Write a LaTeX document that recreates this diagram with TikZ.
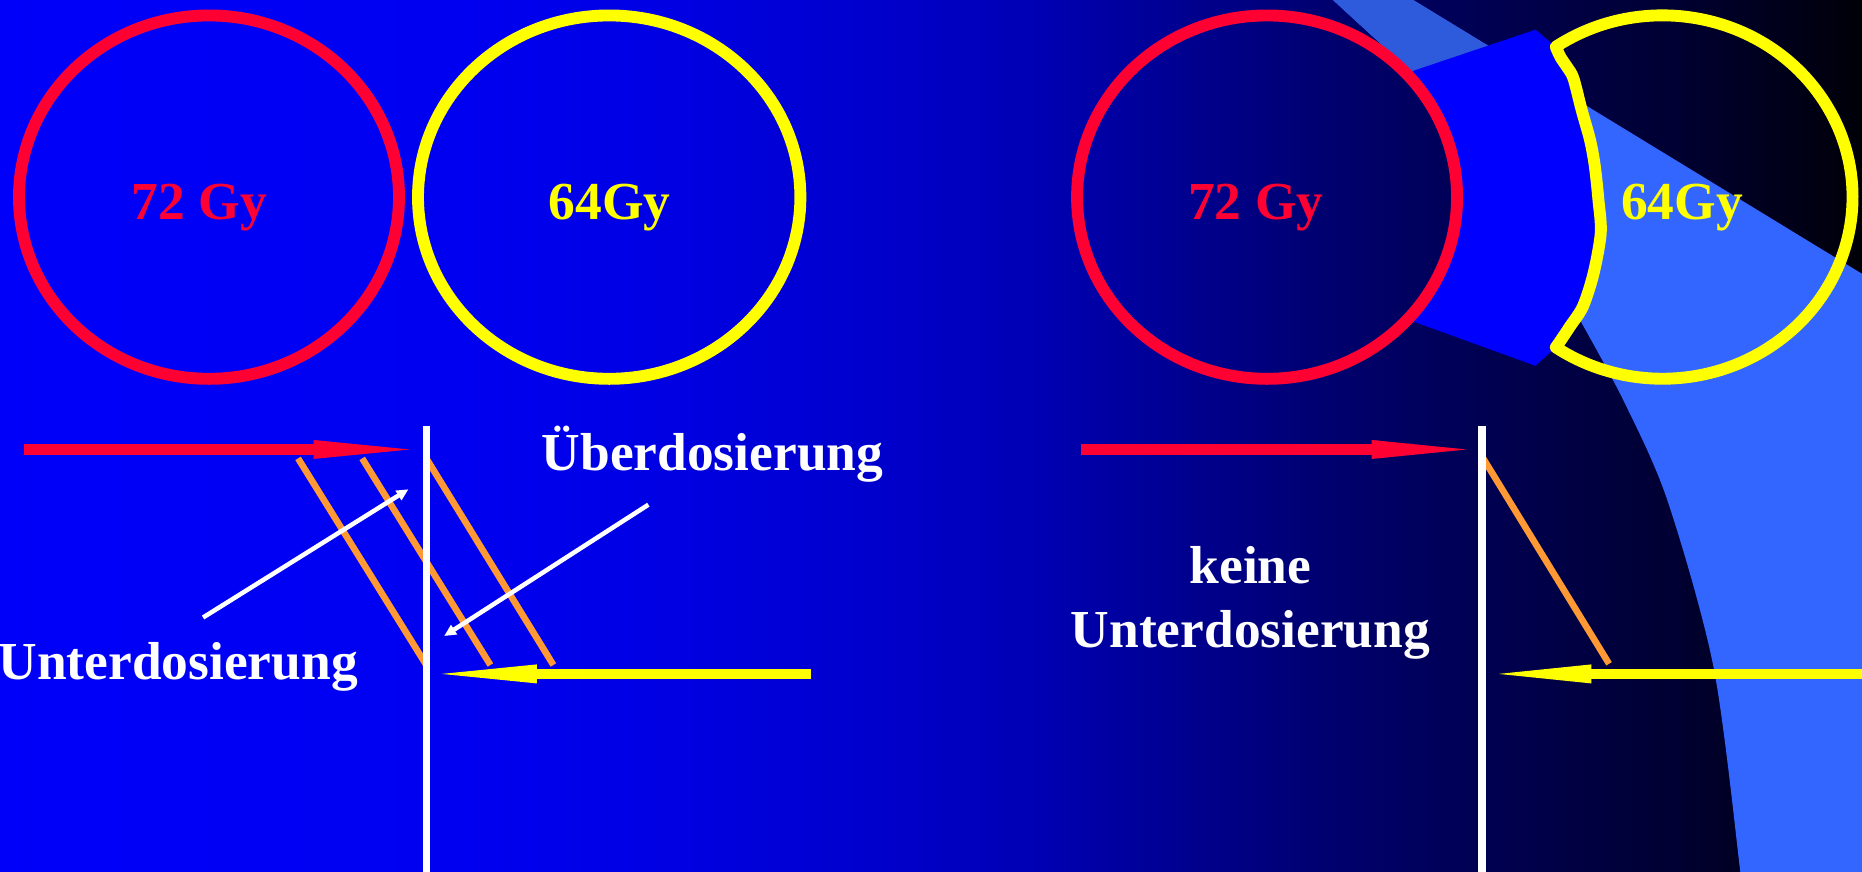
\documentclass[tikz,border=0pt]{standalone}
\usepackage{fontspec}
\setmainfont{Liberation Serif}
\usetikzlibrary{calc,arrows.meta}
\definecolor{redc}{RGB}{255,0,51}
\definecolor{yelc}{RGB}{255,255,0}
\definecolor{orac}{RGB}{255,153,51}
\definecolor{bandA}{RGB}{46,91,220}
\definecolor{bandB}{RGB}{51,102,255}
\definecolor{trapc}{RGB}{0,0,255}
\definecolor{bg0}{RGB}{0,0,250}
\definecolor{bg1}{RGB}{0,0,240}
\definecolor{bg2}{RGB}{0,0,228}
\definecolor{bg3}{RGB}{0,0,202}
\definecolor{bg4}{RGB}{0,0,178}
\definecolor{bg5}{RGB}{0,0,142}
\definecolor{bg6}{RGB}{0,0,112}
\definecolor{bg7}{RGB}{0,0,84}
\definecolor{bg8}{RGB}{0,0,50}
\definecolor{bg9}{RGB}{0,0,8}
\pgfdeclarehorizontalshading{bgshade}{100bp}{color(0bp)=(bg0); color(25bp)=(bg0); color(37.5bp)=(bg1); color(42.5bp)=(bg2); color(49bp)=(bg3); color(53bp)=(bg4); color(57bp)=(bg5); color(60.5bp)=(bg6); color(64.5bp)=(bg7); color(70bp)=(bg8); color(75bp)=(bg9); color(100bp)=(bg9)}
% #1 colour, #2 start, #3 tip, #4 signed head length, #5 half head width
\newcommand\hbigarrow[5]{%
  \draw[shaft,#1] (#2) -- ($(#3)+({0.97*(#4)},0)$);
  \fill[#1] ($(#3)+(#4,-#5)$) -- (#3) -- ($(#3)+(#4,#5)$) -- cycle;}
\begin{document}
\begin{tikzpicture}[x=1pt,y=1pt,yscale=-1,
  ring/.style={line width=10pt},
  lbl/.style={font=\bfseries\fontsize{45}{54}\selectfont, anchor=base, inner sep=0pt},
  shaft/.style={line width=9pt},
  beam/.style={orac, line width=5.5pt},
  wall/.style={white, line width=6pt},
  pointer/.style={white, line width=3.8pt, -{Triangle[length=10pt,width=9pt]}}]
\useasboundingbox (0,0) rectangle (1568,734);
\clip (0,0) rectangle (1568,734);
% background
\shade[shading=bgshade] (0,0) rectangle (1568,734);
% light blue band
\def\bandpath{(1122.5,0) -- (1189,61) -- (1260,150) -- (1310,240) -- (1330.5,269.5)
  -- plot[smooth] coordinates {(1330.5,269.5) (1367,337) (1404,421) (1443,562) (1465,730) (1467,760)}
  -- (1600,760) -- (1600,250.1) -- (1190,0) -- (1190,-10) -- (1110,-10) -- cycle}
\fill[bandB] \bandpath;
\begin{scope}
  \clip (1100,-10) rectangle (1420,75);
  \fill[bandA] \bandpath;
\end{scope}
% blue wedge between the right circles
\fill[trapc] (1184,61.7) -- (1293,25) -- (1310.1,39.4)
  -- plot[smooth] coordinates {(1310.1,39.4) (1314,48) (1320,57) (1325,66) (1332,93) (1339,118) (1343,140) (1346,168) (1348,196) (1342,230) (1333,258) (1322,275) (1314,287) (1310.1,292.6)}
  -- (1293,308) -- (1185.3,269) arc[start angle=42.3, end angle=-43, x radius=160, y radius=153] -- cycle;
% circles
\draw[ring, redc] (176,166) ellipse [x radius=160, y radius=153];
\draw[ring, yelc] (513,166) ellipse [x radius=161, y radius=153];
\draw[ring, redc] (1067,166) ellipse [x radius=160, y radius=153];
\draw[ring, yelc, line join=round] (1310.1,39.4) arc[start angle=-124.2, end angle=124.2, x radius=160, y radius=153]
  -- plot[smooth] coordinates {(1310.1,292.6) (1314,287) (1322,275) (1333,258) (1342,230) (1348,196) (1346,168) (1343,140) (1339,118) (1332,93) (1325,66) (1320,57) (1314,48) (1310.1,39.4)} -- cycle;
% labels
\node[lbl, text=redc] (dL1) at (168,185) {72 Gy};
\node[lbl, text=yelc] (dL2) at (513.5,185) {64Gy};
\node[lbl, text=redc] (dR1) at (1057.5,185) {72 Gy};
\node[lbl, text=yelc] (dR2) at (1416.5,185) {64Gy};
\node[lbl, text=white] (ueber) at (600,396.5) {Überdosierung};
\node[lbl, text=white] (unterL) at (150,572) {Unterdosierung};
\node[lbl, text=white] (keine) at (1053,491) {keine};
\node[lbl, text=white] (unterR) at (1053,545) {Unterdosierung};
% orange beam edges
\coordinate (o1a) at (251,386); \coordinate (o1b) at (359,560);
\coordinate (o2a) at (305,386); \coordinate (o2b) at (413,560);
\coordinate (o3a) at (359,386); \coordinate (o3b) at (466,560);
\coordinate (o4a) at (1249,386); \coordinate (o4b) at (1355,559);
\draw[beam] (o1a) -- (o1b);
\draw[beam] (o2a) -- (o2b);
\draw[beam] (o3a) -- (o3b);
\draw[beam] (o4a) -- (o4b);
% white field edges
\coordinate (wLa) at (359,358.5); \coordinate (wLb) at (359,745);
\coordinate (wRa) at (1248,358.5); \coordinate (wRb) at (1248,745);
\draw[wall] (wLa) -- (wLb);
\draw[wall] (wRa) -- (wRb);
% big arrows
\coordinate (rL0) at (20,378.5); \coordinate (rLt) at (345,378.5);
\coordinate (rR0) at (910,378.5); \coordinate (rRt) at (1235,378.5);
\coordinate (yL0) at (683,567.5); \coordinate (yLt) at (372,567.5);
\coordinate (yR0) at (1590,567.5); \coordinate (yRt) at (1262,567.5);
\hbigarrow{redc}{rL0}{rLt}{-81}{8}
\hbigarrow{redc}{rR0}{rRt}{-80}{8}
\hbigarrow{yelc}{yL0}{yLt}{80}{8}
\hbigarrow{yelc}{yR0}{yRt}{78}{8}
% white pointers
\coordinate (p1a) at (171,520); \coordinate (p1b) at (344,412);
\coordinate (p2a) at (546,425); \coordinate (p2b) at (374,535.6);
\draw[pointer] (p1a) -- (p1b);
\draw[pointer] (p2a) -- (p2b);
\end{tikzpicture}
\end{document}
